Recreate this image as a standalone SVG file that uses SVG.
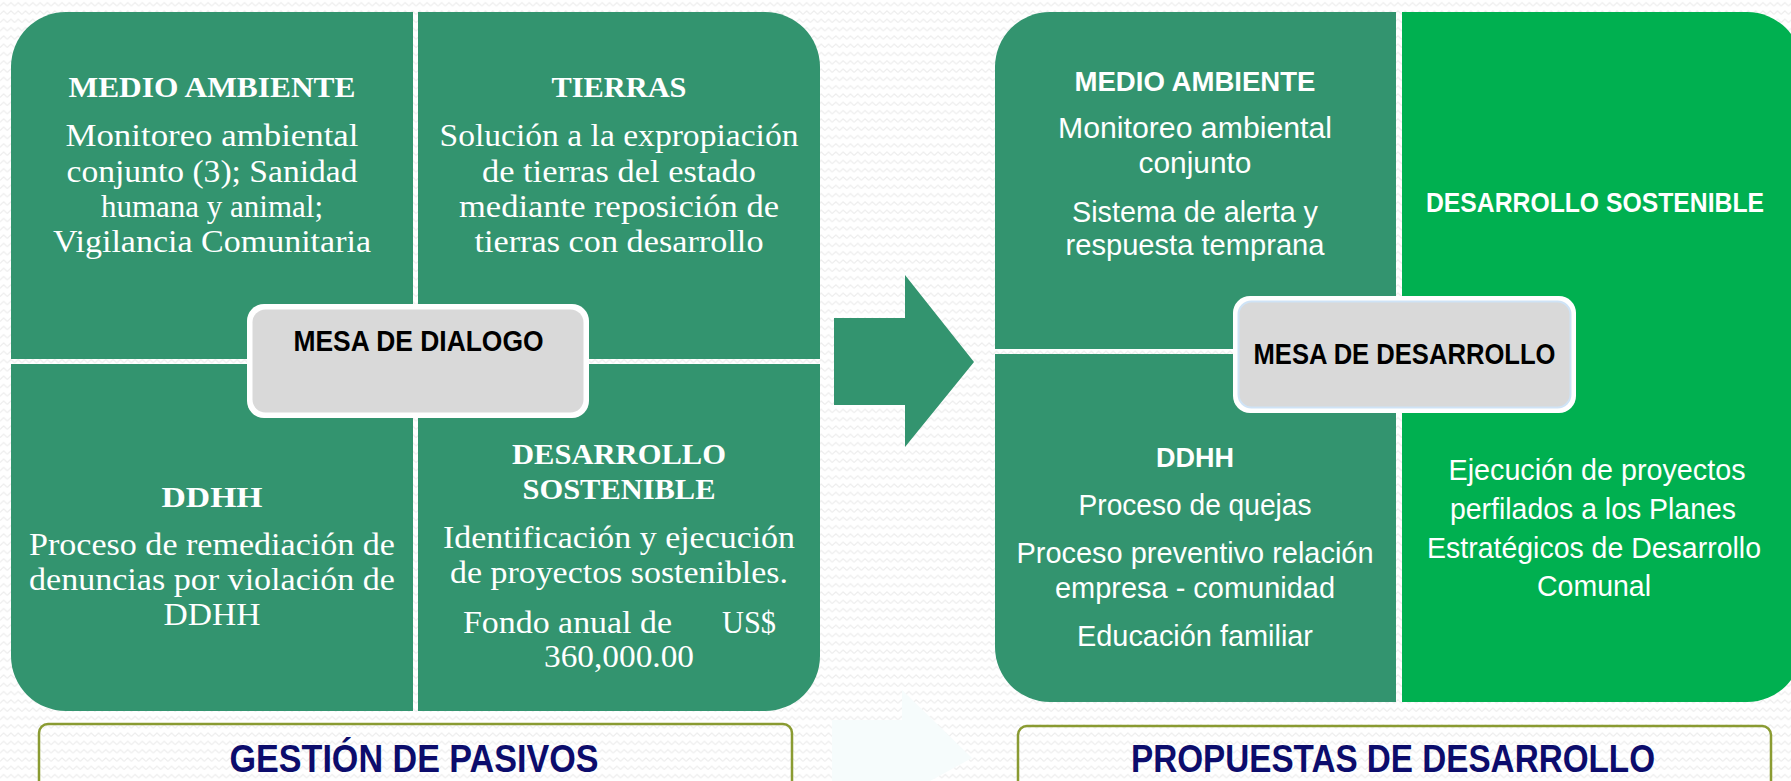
<svg xmlns="http://www.w3.org/2000/svg" width="1791" height="781" viewBox="0 0 1791 781">
<defs>
<pattern id="zig" patternUnits="userSpaceOnUse" width="7.3" height="8.3">
<path d="M0,6 L3.65,2.5 L7.3,6" fill="none" stroke="#ececec" stroke-width="1.1"/>
</pattern>
<style>
.teal{fill:#33946f}
.bright{fill:#00b050}
.serif{font-family:"Liberation Serif","Times New Roman",serif;fill:#ffffff;text-anchor:middle}
.sb{font-size:30px;font-weight:bold}
.sr{font-size:31px}
.sans{font-family:"Liberation Sans",Arial,sans-serif;fill:#ffffff;text-anchor:middle}
.hb{font-size:28px;font-weight:bold}
.hr{font-size:29px}
.mesa{font-family:"Liberation Sans",Arial,sans-serif;font-weight:bold;font-size:29px;fill:#000000;text-anchor:middle}
.title{font-family:"Liberation Sans",Arial,sans-serif;font-weight:bold;font-size:38px;fill:#0c0c6c;text-anchor:middle}
.frame{fill:none;stroke:#8a9b32;stroke-width:2.5}
</style>
</defs>
<rect width="1791" height="781" fill="#ffffff"/>
<rect width="1791" height="781" fill="url(#zig)"/>

<!-- ghost arrow -->
<polygon points="832,720 902,720 902,690 972,758 930,781 832,781" fill="#f6fcfc"/>

<g id="gestion-pasivos">
<g id="ma-left">
<path class="teal" d="M11,359 L11,67 A55,55 0 0 1 66,12 L413,12 L413,359 Z"/>
<text class="serif sb" x="212" y="97" textLength="287" lengthAdjust="spacingAndGlyphs">MEDIO AMBIENTE</text>
<text class="serif sr" x="212" y="146" textLength="293" lengthAdjust="spacingAndGlyphs">Monitoreo ambiental</text>
<text class="serif sr" x="212" y="182" textLength="291" lengthAdjust="spacingAndGlyphs">conjunto (3); Sanidad</text>
<text class="serif sr" x="212" y="217" textLength="222" lengthAdjust="spacingAndGlyphs">humana y animal;</text>
<text class="serif sr" x="212" y="252" textLength="318" lengthAdjust="spacingAndGlyphs">Vigilancia Comunitaria</text>
</g>
<g id="tierras">
<path class="teal" d="M418,12 L765,12 A55,55 0 0 1 820,67 L820,359 L418,359 Z"/>
<text class="serif sb" x="619" y="97" textLength="135" lengthAdjust="spacingAndGlyphs">TIERRAS</text>
<text class="serif sr" x="619" y="146" textLength="359" lengthAdjust="spacingAndGlyphs">Solución a la expropiación</text>
<text class="serif sr" x="619" y="182" textLength="274" lengthAdjust="spacingAndGlyphs">de tierras del estado</text>
<text class="serif sr" x="619" y="217" textLength="320" lengthAdjust="spacingAndGlyphs">mediante reposición de</text>
<text class="serif sr" x="619" y="252" textLength="289" lengthAdjust="spacingAndGlyphs">tierras con desarrollo</text>
</g>
<g id="ddhh-left">
<path class="teal" d="M11,364 L413,364 L413,711 L66,711 A55,55 0 0 1 11,656 Z"/>
<text class="serif sb" x="212" y="507" textLength="101" lengthAdjust="spacingAndGlyphs">DDHH</text>
<text class="serif sr" x="212" y="555" textLength="366" lengthAdjust="spacingAndGlyphs">Proceso de remediación de</text>
<text class="serif sr" x="212" y="590" textLength="366" lengthAdjust="spacingAndGlyphs">denuncias por violación de</text>
<text class="serif sr" x="212" y="625" textLength="97" lengthAdjust="spacingAndGlyphs">DDHH</text>
</g>
<g id="ds-left">
<path class="teal" d="M418,364 L820,364 L820,656 A55,55 0 0 1 765,711 L418,711 Z"/>
<text class="serif sb" x="619" y="464" textLength="214" lengthAdjust="spacingAndGlyphs">DESARROLLO</text>
<text class="serif sb" x="619" y="499" textLength="193" lengthAdjust="spacingAndGlyphs">SOSTENIBLE</text>
<text class="serif sr" x="619" y="548" textLength="352" lengthAdjust="spacingAndGlyphs">Identificación y ejecución</text>
<text class="serif sr" x="619" y="583" textLength="338" lengthAdjust="spacingAndGlyphs">de proyectos sostenibles.</text>
<text class="serif sr" y="633"><tspan x="567.5" textLength="209" lengthAdjust="spacingAndGlyphs">Fondo anual de</tspan><tspan x="749" textLength="54" lengthAdjust="spacingAndGlyphs">US$</tspan></text>
<text class="serif sr" x="619" y="667" textLength="150" lengthAdjust="spacingAndGlyphs">360,000.00</text>
</g>
<g id="mesa-dialogo">
<rect x="247" y="304" width="342" height="114" rx="17" fill="#ffffff"/>
<rect x="252.5" y="309.5" width="331" height="103" rx="13" fill="#d9d9d9"/>
<text class="mesa" x="418.5" y="351" textLength="250" lengthAdjust="spacingAndGlyphs">MESA DE DIALOGO</text>
</g>
<g id="label-gestion">
<rect class="frame" x="39" y="724" width="753" height="80" rx="9"/>
<text class="title" x="414" y="772" textLength="369" lengthAdjust="spacingAndGlyphs">GESTIÓN DE PASIVOS</text>
</g>
</g>

<g id="connectors">
<polygon class="teal" points="834,318 905,318 905,275 974,362 905,447 905,405 834,405"/>
</g>

<g id="propuestas-desarrollo">
<g id="ma-right">
<path class="teal" d="M995,349 L995,67 A55,55 0 0 1 1050,12 L1396,12 L1396,349 Z"/>
<text class="sans hb" x="1195" y="91" textLength="241" lengthAdjust="spacingAndGlyphs">MEDIO AMBIENTE</text>
<text class="sans hr" x="1195" y="138" textLength="274" lengthAdjust="spacingAndGlyphs">Monitoreo ambiental</text>
<text class="sans hr" x="1195" y="173" textLength="113" lengthAdjust="spacingAndGlyphs">conjunto</text>
<text class="sans hr" x="1195" y="222" textLength="246" lengthAdjust="spacingAndGlyphs">Sistema de alerta y</text>
<text class="sans hr" x="1195" y="255" textLength="259" lengthAdjust="spacingAndGlyphs">respuesta temprana</text>
</g>
<g id="ddhh-right">
<path class="teal" d="M995,354 L1396,354 L1396,702 L1050,702 A55,55 0 0 1 995,647 Z"/>
<text class="sans hb" x="1195" y="467" textLength="78" lengthAdjust="spacingAndGlyphs">DDHH</text>
<text class="sans hr" x="1195" y="515" textLength="233" lengthAdjust="spacingAndGlyphs">Proceso de quejas</text>
<text class="sans hr" x="1195" y="563" textLength="357" lengthAdjust="spacingAndGlyphs">Proceso preventivo relación</text>
<text class="sans hr" x="1195" y="598" textLength="280" lengthAdjust="spacingAndGlyphs">empresa - comunidad</text>
<text class="sans hr" x="1195" y="646" textLength="236" lengthAdjust="spacingAndGlyphs">Educación familiar</text>
</g>
<g id="ds-right">
<path class="bright" d="M1402,12 L1747,12 A55,55 0 0 1 1802,67 L1802,647 A55,55 0 0 1 1747,702 L1402,702 Z"/>
<text class="sans hb" x="1595" y="212" textLength="338" lengthAdjust="spacingAndGlyphs">DESARROLLO SOSTENIBLE</text>
<text class="sans hr" x="1597" y="480" textLength="297" lengthAdjust="spacingAndGlyphs">Ejecución de proyectos</text>
<text class="sans hr" x="1593" y="519" textLength="286" lengthAdjust="spacingAndGlyphs">perfilados a los Planes</text>
<text class="sans hr" x="1594" y="558" textLength="334" lengthAdjust="spacingAndGlyphs">Estratégicos de Desarrollo</text>
<text class="sans hr" x="1594" y="596" textLength="114" lengthAdjust="spacingAndGlyphs">Comunal</text>
</g>
<g id="mesa-desarrollo">
<rect x="1233" y="296" width="343" height="117" rx="17" fill="#ffffff"/>
<rect x="1238.5" y="301.5" width="332" height="106" rx="13" fill="#d9d9d9" stroke="#cfe3f6" stroke-width="2"/>
<text class="mesa" x="1404.5" y="364" textLength="302" lengthAdjust="spacingAndGlyphs">MESA DE DESARROLLO</text>
</g>
<g id="label-propuestas">
<rect class="frame" x="1018" y="726" width="753" height="80" rx="9"/>
<text class="title" x="1393" y="772" textLength="524" lengthAdjust="spacingAndGlyphs">PROPUESTAS DE DESARROLLO</text>
</g>
</g>
</svg>
